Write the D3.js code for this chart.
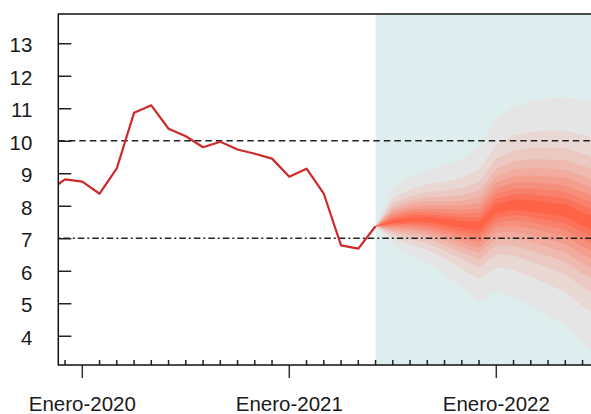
<!DOCTYPE html>
<html>
<head>
<meta charset="utf-8">
<script src="https://cdn.jsdelivr.net/npm/d3@7"></script>
<style>
  body { margin: 0; background: #fff; }
  svg text { font-family: "Liberation Sans", Arial, sans-serif; fill: #1a1a1a; }
</style>
</head>
<body>
<div id="chart"></div>
<script>
// observed series (monthly)
var obsDates = ["2019-11","2019-12","2020-01","2020-02","2020-03","2020-04","2020-05","2020-06",
    "2020-07","2020-08","2020-09","2020-10","2020-11","2020-12","2021-01","2021-02","2021-03",
    "2021-04","2021-05","2021-06"];
var obsValues = [8.43, 8.81, 8.74, 8.37, 9.15, 10.86, 11.09, 10.37, 10.14, 9.80, 9.97, 9.73,
    9.60, 9.45, 8.89, 9.14, 8.37, 6.78, 6.68, 7.37];

// forecast fan: centre and outer limits
var fcDates = ["2021-06","2021-07","2021-08","2021-09","2021-10","2021-11","2021-12",
    "2022-01","2022-02","2022-03","2022-04","2022-05","2022-06","2022-07"];
var fcCenter = [7.37, 7.50, 7.57, 7.57, 7.50, 7.42, 7.37, 7.90, 8.02, 8.00, 7.92, 7.85, 7.60, 7.40];
var fcUpper  = [7.37, 8.55, 8.90, 9.10, 9.25, 9.45, 9.84, 10.70, 11.05, 11.22, 11.30, 11.33, 11.25, 11.10];
var fcLower  = [7.37, 6.80, 6.50, 6.25, 5.90, 5.50, 5.07, 5.37, 5.20, 4.92, 4.62, 4.30, 3.80, 3.40];
// share of the outer spread reached by each band (outer -> inner)
var bandShare = [1, 0.707, 0.551, 0.445, 0.362, 0.290, 0.225, 0.166, 0.109, 0.054];

var yTicks = [4, 5, 6, 7, 8, 9, 10, 11, 12, 13];
var xLabels = ["Enero-2020", "Enero-2021", "Enero-2022"];
var refLines = [10, 7];

var width = 591, height = 414;
var pad = {top: 14, left: 58.3, bottom: 365};
var plotRight = 597;

function monthIdx(s) {
    var p = s.split("-");
    return (+p[0] - 2020) * 12 + (+p[1] - 1);
}

var x = d3.scaleLinear().domain([0, 12]).range([82.3, 289.3]);
var y = d3.scaleLinear().domain([3.1, 13.9]).range([pad.bottom, pad.top]);
var xLeft = x.invert(pad.left), xRight = x.invert(plotRight);

var svg = d3.select("#chart").append("svg")
    .attr("width", width)
    .attr("height", height);

svg.append("defs").append("clipPath").attr("id", "plotClip")
    .append("rect")
    .attr("x", pad.left).attr("y", pad.top)
    .attr("width", plotRight - pad.left).attr("height", pad.bottom - pad.top);

var plot = svg.append("g").attr("clip-path", "url(#plotClip)");

// forecast background
var fcStart = monthIdx(fcDates[0]);
plot.append("rect")
    .attr("x", x(fcStart))
    .attr("y", pad.top)
    .attr("width", plotRight - x(fcStart))
    .attr("height", pad.bottom - pad.top)
    .style("fill", "#deeded");

// fan bands
var fanData = fcDates.map(function(d, i) {
    return {m: monthIdx(d), c: fcCenter[i], u: fcUpper[i], l: fcLower[i]};
});
var fanColor = d3.interpolateRgb("tomato", "#e5e5e5");

bandShare.forEach(function(s, k) {
    var area = d3.area()
        .x(function(d) { return x(d.m); })
        .y0(function(d) { return y(d.c - s * (d.c - d.l)); })
        .y1(function(d) { return y(d.c + s * (d.u - d.c)); });
    plot.append("path")
        .datum(fanData)
        .attr("d", area)
        .style("fill", fanColor((bandShare.length - 1 - k) / (bandShare.length - 1)))
        .style("stroke", "none");
});

// reference lines
plot.selectAll(".ref")
    .data(refLines)
    .enter().append("line")
    .attr("class", "ref")
    .attr("x1", pad.left).attr("x2", plotRight)
    .attr("y1", function(d) { return y(d); })
    .attr("y2", function(d) { return y(d); })
    .style("stroke", "#222")
    .style("stroke-width", 1.3)
    .style("stroke-dasharray", function(d, i) { return i == 0 ? "6.5,4" : "2,3,6.5,3"; });

// observed line
var line = d3.line()
    .x(function(d, i) { return x(monthIdx(obsDates[i])); })
    .y(function(d) { return y(d); });

plot.append("path")
    .datum(obsValues)
    .attr("d", line)
    .style("fill", "none")
    .style("stroke", "#cd2a2a")
    .style("stroke-width", 2.2)
    .style("stroke-linejoin", "round");

// y axis ticks (inside) and labels
var yAxis = d3.axisLeft(y)
    .tickValues(yTicks)
    .tickSizeInner(-13)
    .tickSizeOuter(0)
    .tickPadding(39);
var gY = svg.append("g")
    .attr("transform", "translate(" + pad.left + ",0)")
    .call(yAxis);
gY.select(".domain").remove();
gY.selectAll(".tick line").style("stroke", "#222").style("stroke-width", 1.5);
gY.selectAll(".tick text")
    .attr("x", -26)
    .attr("dy", "0.42em")
    .style("font-size", "20.5px")
    .style("text-anchor", "end");

// x axis: monthly minor ticks inside, January ticks outside
var months = d3.range(Math.ceil(xLeft), Math.floor(xRight) + 1);
var minor = months.filter(function(m) { return m % 12 != 0; });
var major = months.filter(function(m) { return m % 12 == 0; });

svg.append("g").selectAll("line")
    .data(minor)
    .enter().append("line")
    .attr("x1", function(d) { return x(d); })
    .attr("x2", function(d) { return x(d); })
    .attr("y1", pad.bottom)
    .attr("y2", pad.bottom - 5)
    .style("stroke", "#222")
    .style("stroke-width", 1.5);

svg.append("g").selectAll("line")
    .data(major)
    .enter().append("line")
    .attr("x1", function(d) { return x(d); })
    .attr("x2", function(d) { return x(d); })
    .attr("y1", pad.bottom)
    .attr("y2", pad.bottom + 13)
    .style("stroke", "#333")
    .style("stroke-width", 1.5);

svg.append("g").selectAll("text")
    .data(major)
    .enter().append("text")
    .attr("x", function(d) { return x(d); })
    .attr("y", 410.5)
    .style("text-anchor", "middle")
    .style("font-size", "20.5px")
    .text(function(d, i) { return xLabels[i]; });

// frame
svg.append("rect")
    .attr("x", pad.left)
    .attr("y", pad.top)
    .attr("width", plotRight - pad.left)
    .attr("height", pad.bottom - pad.top)
    .style("fill", "none")
    .style("stroke", "#111")
    .style("stroke-width", 1.5);
</script>
</body>
</html>
